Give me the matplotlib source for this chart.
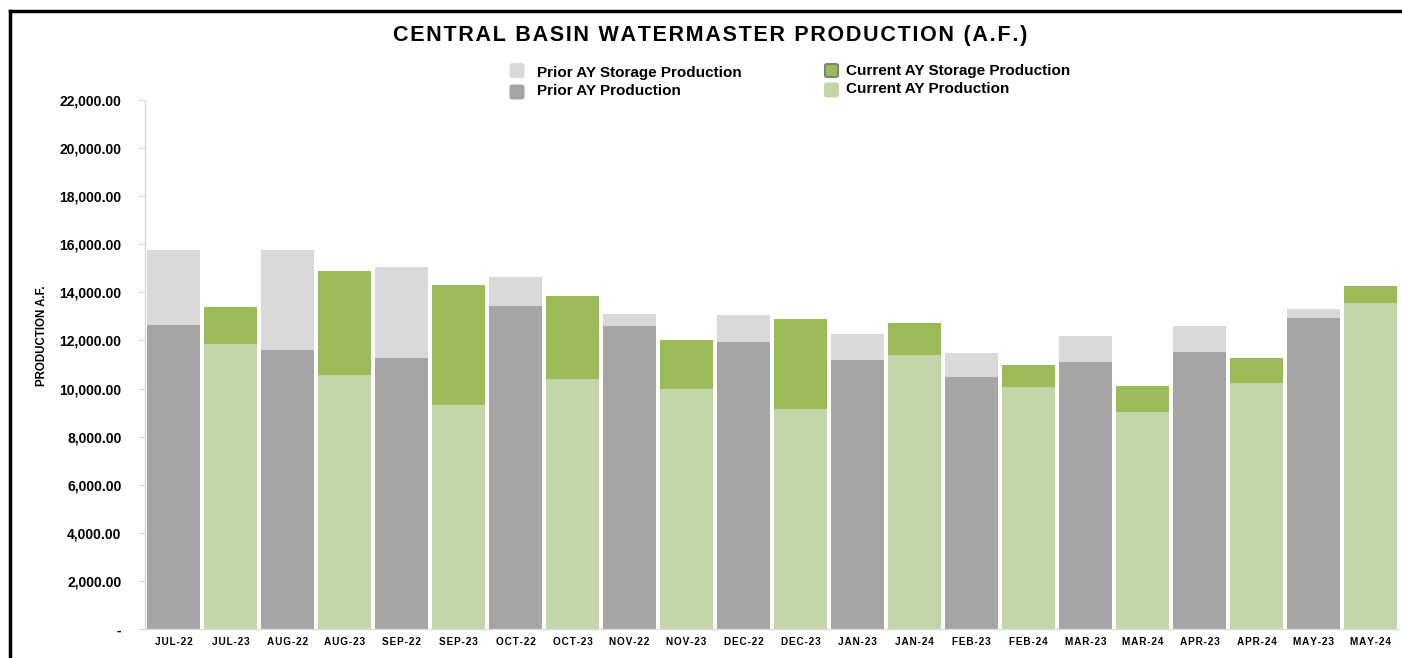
import matplotlib.pyplot as plt
from matplotlib.patches import FancyBboxPatch
from matplotlib.lines import Line2D
import numpy as np

plt.rcParams['font.family'] = ['Liberation Sans', 'DejaVu Sans']

#Month names, prior AY (22/23) and current AY (23/24)
months = ['JUL', 'AUG', 'SEP', 'OCT', 'NOV', 'DEC', 'JAN', 'FEB', 'MAR', 'APR', 'MAY']
prior_years = ['22', '22', '22', '22', '22', '22', '23', '23', '23', '23', '23']
current_years = ['23', '23', '23', '23', '23', '23', '24', '24', '24', '24', '24']

#Values (A.F.)
prior_prod = [12640, 11590, 11270, 13430, 12585, 11945, 11200, 10490, 11115, 11505, 12945]
prior_storage = [3140, 4170, 3795, 1220, 500, 1100, 1065, 985, 1080, 1105, 360]
current_prod = [11850, 10550, 9315, 10395, 9965, 9150, 11395, 10075, 9010, 10215, 13570]
current_storage = [1540, 4320, 5000, 3465, 2065, 3740, 1315, 915, 1095, 1055, 690]

yticks = [0, 2000, 4000, 6000, 8000, 10000, 12000, 14000, 16000, 18000, 20000, 22000]

c_prior = '#a5a5a5'
c_prior_st = '#d9d9d9'
c_cur_st = '#9bbb59'
c_cur = '#c4d5aa'

def spaced(s, sp='\u200a'):
    #Fake letter spacing with hair spaces.
    return sp.join(list(s))

fig = plt.figure(figsize=(14.02, 6.58), dpi=100)
ax = fig.add_axes([145/1402, 29/658, 1254/1402, 529/658])

n = len(months)
x_prior = np.arange(n) * 2
x_cur = x_prior + 1
w = 0.93

ax.bar(x_prior, prior_prod, w, color=c_prior, linewidth=0)
ax.bar(x_prior, prior_storage, w, bottom=prior_prod, color=c_prior_st, linewidth=0)
ax.bar(x_cur, current_prod, w, color=c_cur, linewidth=0)
ax.bar(x_cur, current_storage, w, bottom=current_prod, color=c_cur_st, linewidth=0)

labels = []
for i in range(n):
    labels.append(spaced(months[i] + '-' + prior_years[i]))
    labels.append(spaced(months[i] + '-' + current_years[i]))
ax.set_xticks(np.arange(2 * n))
ax.set_xticklabels(labels, fontsize=7.2, fontweight='bold')
ax.set_xlim(-0.5, 2 * n - 0.5)
ax.tick_params(axis='x', length=0, pad=6)

ax.set_ylim(0, 22000)
ax.set_yticks(yticks)
ax.set_yticklabels(['-'] + ['{:,.2f}'.format(v) for v in yticks[1:]], fontsize=10, fontweight='bold')
ax.tick_params(axis='y', length=5, color='#d9d9d9', pad=12)

for s in ['top', 'right']:
    ax.spines[s].set_visible(False)
for s in ['left', 'bottom']:
    ax.spines[s].set_color('#d9d9d9')
    ax.spines[s].set_linewidth(1)

fig.text(42/1402, 1 - 336/658, 'PRODUCTION A.F.', rotation=90, ha='center', va='center',
         fontsize=8.3, fontweight='bold')

fig.text(710/1402, 1 - 35/658, spaced('CENTRAL BASIN WATERMASTER PRODUCTION (A.F.)'),
         ha='center', va='center', fontsize=15.5, fontweight='bold')

#Legend, drawn by hand: marker centre x, marker centre y, text y
legend_items = [
    (517, 70.5, 73, c_prior_st, c_prior_st, 'Prior AY Storage Production'),
    (517, 92, 91, c_prior, c_prior, 'Prior AY Production'),
    (831.5, 70.5, 70.5, c_cur_st, '#808080', 'Current AY Storage Production'),
    (831.5, 90, 89, c_cur, c_cur, 'Current AY Production'),
]
for px, py, ty, col, ec, txt in legend_items:
    box = FancyBboxPatch(((px - 6.5) / 1402, 1 - (py + 6.5) / 658), 13 / 1402, 13 / 658,
                         boxstyle='round,pad=0.0,rounding_size=0.002', transform=fig.transFigure,
                         facecolor=col, edgecolor=ec, linewidth=1.5)
    fig.patches.append(box)
    fig.text((px + 20) / 1402 if px < 600 else (px + 14) / 1402, 1 - ty / 658, txt,
             ha='left', va='center', fontsize=11, fontweight='bold')

#Black frame on the left and top
fig.add_artist(Line2D([10/1402, 10/1402], [0, 1 - 11/658], color='black', lw=2.5, transform=fig.transFigure))
fig.add_artist(Line2D([10/1402, 1], [1 - 11/658, 1 - 11/658], color='black', lw=2.5, transform=fig.transFigure))

fig.savefig('out.png', dpi=100)
